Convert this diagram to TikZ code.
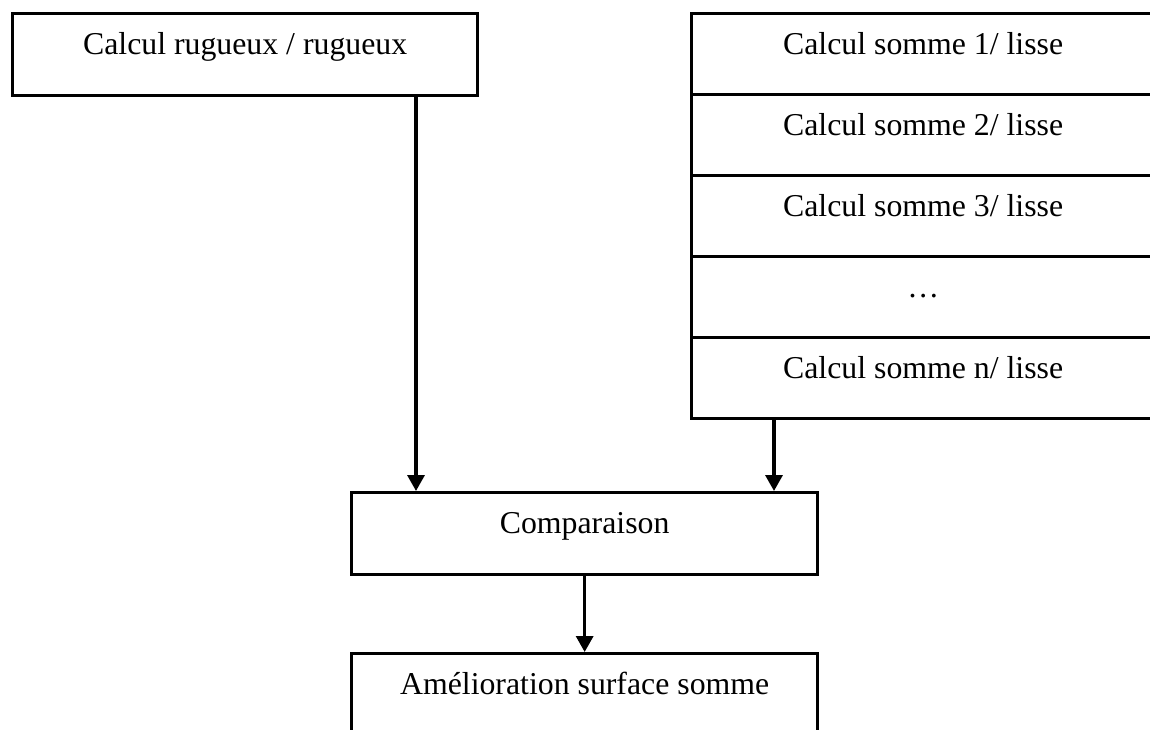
\documentclass[tikz,border=0pt]{standalone}
\usepackage{fontspec}
\setmainfont{Liberation Serif}
\usetikzlibrary{arrows.meta}

\tikzset{
  box/.style={draw, line width=3.3pt, inner sep=0pt, anchor=north west,
    text height=41pt, text depth=41pt,
    font=\fontsize{31.8pt}{38pt}\selectfont},
  fleche/.style={line width=3.3pt, -{Triangle[width=17pt,length=16pt]}}
}

\begin{document}
\begin{tikzpicture}[x=1pt, y=-1pt]

      \clip (0, 0) rectangle (1150, 729);

      \node[box, minimum width=465pt] (rugueux) at (11, 12) {Calcul rugueux / rugueux};

      \foreach \i/\txt in {1/{Calcul somme 1/ lisse}, 2/{Calcul somme 2/ lisse},
                           3/{Calcul somme 3/ lisse}, 4/{…}, 5/{Calcul somme n/ lisse}}
        \node[box, minimum width=463pt, text depth=40pt] (lisse\i) at (690, 12 + 81 * \i - 81) {\txt};

      \node[box, minimum width=466pt] (comparaison) at (350, 491) {Comparaison};

      \node[box, minimum width=466pt, text depth=90pt] (amelioration) at (350, 652) {Amélioration surface somme};

      \draw[fleche] ([xshift=405pt]rugueux.south west) -- ([xshift=405pt]rugueux.south west |- comparaison.north);
      \draw[fleche] ([xshift=84pt]lisse5.south west) -- ([xshift=84pt]lisse5.south west |- comparaison.north);
      \draw[fleche] (comparaison.south) -- (amelioration.north);

    \end{tikzpicture}
\end{document}
